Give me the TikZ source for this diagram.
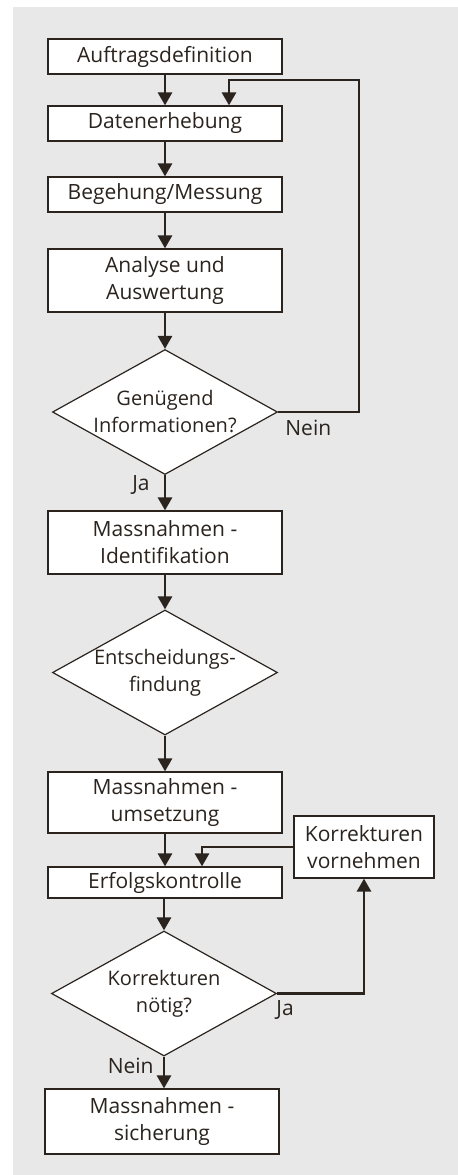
\documentclass[tikz,border=0pt]{standalone}
\usepackage{fontspec}
\setmainfont{Open Sans}
\usetikzlibrary{shapes.geometric,arrows.meta}
\definecolor{ink}{HTML}{2B231D}
\definecolor{bggray}{HTML}{E8E8E8}

\begin{document}
\begin{tikzpicture}
	[x=0.5pt, y=-0.5pt, font=\fontsize{10.5}{13.5}\selectfont, text=ink,
	block/.style ={rectangle, draw=ink, fill=white, line width=0.6pt, align=center, minimum width=117pt, inner sep=0pt},
	decision/.style ={diamond, aspect=1.8, draw=ink, fill=white, line width=0.6pt, align=center, minimum width=112.5pt, minimum height=62.5pt, inner sep=-4pt, font=\fontsize{10}{13.5}\selectfont},
	flow/.style ={draw=ink, line width=1.35pt, -{Triangle[length=6.5pt,width=7pt]}},
	lbl/.style ={inner sep=0pt}]
	\useasboundingbox (0,0) rectangle (458,1175);
	\fill[bggray] (13,7) rectangle (458,1175);

	% main column
	\node[block, minimum height=17.5pt] (auftrag) at (165,56.5) {Auftragsdefinition};
	\node[block, minimum height=17.5pt] (daten) at (165,123.5) {Datenerhebung};
	\node[block, minimum height=17.5pt] (begehung) at (165,194.5) {Begehung/Messung};
	\node[block, minimum height=31.5pt] (analyse) at (165,280.5) {Analyse und\\Auswertung};
	\node[decision] (info) at (165,412) {Genügend\\Informationen?};
	\node[block, minimum height=31.5pt] (ident) at (165,542.5) {Massnahmen -\\Identifikation};
	\node[decision] (entsch) at (165,672.5) {Entscheidungs-\\findung};
	\node[block, minimum height=30.5pt] (umsetz) at (165,802.5) {Massnahmen -\\umsetzung};
	\node[block, minimum height=15.5pt] (erfolg) at (165,882.5) {Erfolgskontrolle};
	\node[decision] (noetig) at (164,993.5) {Korrekturen\\nötig?};
	\node[block, minimum height=32.5pt] (sicher) at (162,1121.5) {Massnahmen -\\sicherung};
	\node[block, minimum width=70pt, minimum height=31pt] (korr) at (364,847) {Korrekturen\\vornehmen};

	\draw[flow] (auftrag) -- (daten);
	\draw[flow] (daten) -- (begehung);
	\draw[flow] (begehung) -- (analyse);
	\draw[flow] (analyse) -- (info);
	\draw[flow] (info) -- (ident);
	\draw[flow] (ident) -- (entsch);
	\draw[flow] (entsch) -- (umsetz);
	\draw[flow] (umsetz) -- (erfolg);
	\draw[flow] (erfolg.south -| noetig.north) -- (noetig.north);
	\draw[flow] (noetig.south) -- (noetig.south |- sicher.north);

	% loops
	\coordinate (loopa) at (359,80);
	\coordinate (loopb) at (229,80);
	\draw[flow] (info.east) -| (loopa) -- (loopb) -- (loopb |- daten.north);
	\draw[flow] (noetig.east) -| (korr.south);
	\coordinate (kback) at (202,847);
	\draw[flow] (korr.west) -- (kback) -- (kback |- erfolg.north);

	\node[lbl, anchor=west] (nein1) at (285,428) {Nein};
	\node[lbl, anchor=east] (ja1) at (150,485) {Ja};
	\node[lbl, anchor=west] (ja2) at (276,1010) {Ja};
	\node[lbl, anchor=east] (nein2) at (154,1066) {Nein};
\end{tikzpicture}
\end{document}
